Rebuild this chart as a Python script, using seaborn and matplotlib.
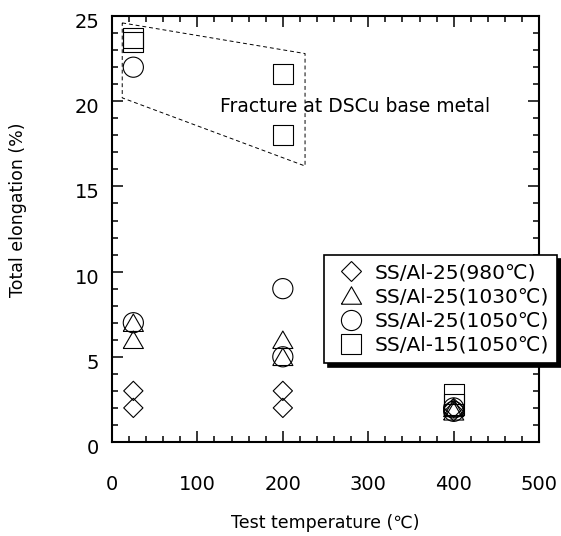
import numpy as np
import pandas as pd
import seaborn as sns
import matplotlib.pyplot as plt
from matplotlib.lines import Line2D
from matplotlib.transforms import ScaledTranslation

# values
temps = [25, 25, 200, 200, 400, 400]
al25_980 = [3.0, 2.0, 3.0, 2.0, 2.0, 1.8]
al25_1030 = [7.0, 6.0, 6.0, 5.0, 2.0, 1.8]
al25_1050 = [22.0, 7.0, 9.0, 5.0, 2.0, 1.8]
al15_1050 = [23.7, 23.5, 21.6, 18.0, 2.8, 2.2]
labels = ['SS/Al-25(980℃)', 'SS/Al-25(1030℃)', 'SS/Al-25(1050℃)', 'SS/Al-15(1050℃)']

# dashed region around the DSCu base metal fractures
region_x = [12, 226, 226, 12, 12]
region_y = [24.6, 22.8, 16.2, 20.2, 24.6]

rows = []
for lab, vals in zip(labels, [al25_980, al25_1030, al25_1050, al15_1050]):
    for t, v in zip(temps, vals):
        rows.append({'temp': t, 'elong': v, 'series': lab})
df = pd.DataFrame(rows)

sns.set_style('ticks')
plt.rcParams['font.family'] = ['DejaVu Sans', 'Noto Sans CJK JP']
plt.rcParams['text.color'] = 'black'
plt.rcParams['axes.labelcolor'] = 'black'
plt.rcParams['xtick.color'] = 'black'
plt.rcParams['ytick.color'] = 'black'

# equilateral triangle, closed
tri = [(-1, -0.866), (1, -0.866), (0, 0.866), (-1, -0.866)]
markers = {labels[0]: 'D', labels[1]: tri, labels[2]: 'o', labels[3]: 's'}
sizes = {labels[0]: 9.8, labels[1]: 14.5, labels[2]: 14.5, labels[3]: 14.5}

fig = plt.figure(figsize=(5.61, 5.36), dpi=100)
ax = fig.add_axes([0.1996, 0.1754, 0.7614, 0.7946])

for lab in labels:
    sub = df[df['series'] == lab]
    sns.scatterplot(data=sub, x='temp', y='elong', marker=markers[lab],
                    s=sizes[lab] ** 2, facecolor='none', edgecolor='black',
                    linewidth=0.8, legend=False, ax=ax, zorder=3)

ax.plot(region_x, region_y, color='black', lw=0.7, ls=(0, (4, 3)))
ax.text(127, 19.7, 'Fracture at DSCu base metal', fontsize=13.5, va='center', ha='left')

ax.set_xlim(0, 500)
ax.set_ylim(0, 25)
ax.set_xticks(np.arange(0, 501, 100))
ax.set_yticks(np.arange(0, 26, 5))
ax.set_xticks(np.arange(0, 501, 20), minor=True)
ax.set_yticks(np.arange(0, 26, 1), minor=True)
ax.tick_params(axis='both', which='both', direction='in', top=True, right=True,
               color='black', width=1.1)
ax.tick_params(which='major', length=8, labelsize=14)
ax.tick_params(which='minor', length=4)
ax.tick_params(axis='x', which='major', pad=24)
ax.tick_params(axis='y', which='major', pad=9)
for sp in ax.spines.values():
    sp.set_linewidth(1.5)
    sp.set_color('black')

# y tick labels sit a little below their ticks in the original
shift = ScaledTranslation(0, -0.045, fig.dpi_scale_trans)
for lbl in ax.get_yticklabels():
    lbl.set_transform(lbl.get_transform() + shift)

ax.set_xlabel('Test temperature (℃)', fontsize=12.5, labelpad=14)
ax.set_ylabel('Total elongation (%)', fontsize=12.5)
ax.yaxis.set_label_coords(-0.2, 0.545)

handles = [Line2D([], [], ls='none', marker=markers[lab], markersize=sizes[lab],
                  markerfacecolor='none', markeredgecolor='black', markeredgewidth=0.8)
           for lab in labels]
leg = ax.legend(handles, labels, loc='upper left', bbox_to_anchor=(0.578, 0.524),
                bbox_transform=fig.transFigure, fontsize=14.5, frameon=True,
                fancybox=False, framealpha=1, edgecolor='black',
                handlelength=1.9, handletextpad=0.2, labelspacing=0.26, borderpad=0.4,
                borderaxespad=0,
                shadow={'ox': 3, 'oy': -3, 'color': 'black', 'alpha': 1})
leg.get_frame().set_linewidth(1.2)

fig.savefig('out.png', dpi=100)
